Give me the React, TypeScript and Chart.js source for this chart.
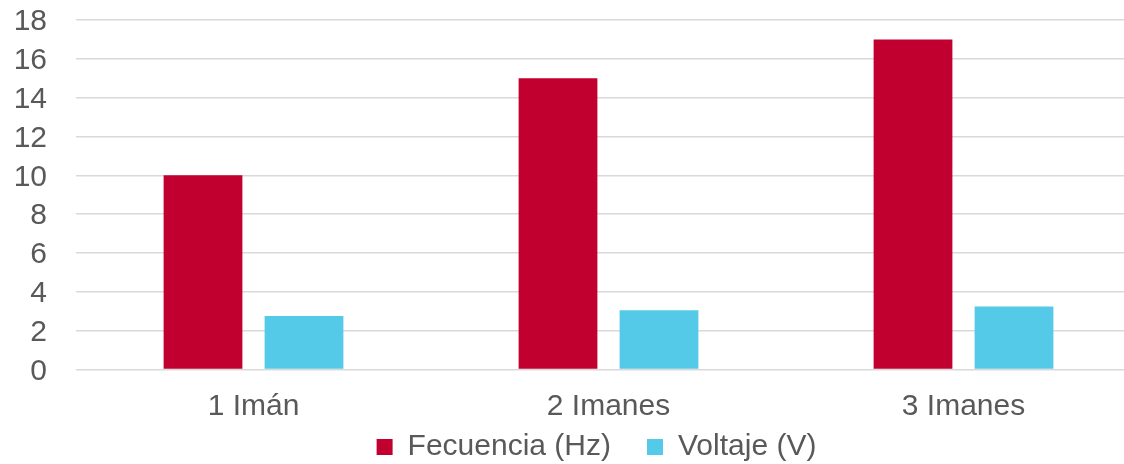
import React, { useEffect, useRef } from "react";
import { Chart, registerables } from "chart.js";

Chart.register(...registerables);

const categories = ["1 Imán", "2 Imanes", "3 Imanes"];
const frecuencia = [10, 15, 17];
const voltaje = [2.75, 3.05, 3.25];
const seriesLabels = ["Fecuencia (Hz)", "Voltaje (V)"];
const yMin = 0;
const yMax = 18;
const yStep = 2;

const RED = "#C1002F";
const CYAN = "#55CAE8";
const TEXT = "#595959";
const GRID = "#D9D9D9";
const FONT = { family: "'Liberation Sans', Arial, sans-serif", size: 30 };

const CANVAS_W = 1200;
const CANVAS_H = 472;

export default function App() {
  const ref = useRef<HTMLCanvasElement>(null);
  useEffect(() => {
    const chart = new Chart(ref.current as HTMLCanvasElement, {
      type: "bar",
      data: {
        labels: categories,
        datasets: [
          {
            label: seriesLabels[0],
            data: frecuencia,
            backgroundColor: RED,
            categoryPercentage: 0.569,
            barPercentage: 0.78,
            yAxisID: "y",
          },
          {
            label: seriesLabels[1],
            data: voltaje,
            backgroundColor: CYAN,
            categoryPercentage: 0.569,
            barPercentage: 0.78,
            yAxisID: "y",
          },
        ],
      },
      options: {
        animation: false,
        responsive: false,
        layout: { padding: { left: 0, right: 7, top: 20, bottom: 0 } },
        scales: {
          x: {
            grid: { display: false, drawTicks: false },
            border: { display: false },
            ticks: { font: FONT, color: TEXT, padding: -55.5, mirror: true, autoSkip: false, maxRotation: 0 },
            afterFit: (s: any) => {
              s.height = CANVAS_H - 76 - 369.5;
            },
          },
          y: {
            position: "left",
            min: yMin,
            max: yMax,
            ticks: { stepSize: yStep, font: FONT, color: TEXT, padding: 29, autoSkip: false, labelOffset: 2 },
            grid: { color: GRID, lineWidth: 1.5, drawTicks: false },
            border: { display: false },
            afterFit: (s: any) => {
              s.width = 76;
              s.paddingTop = 0;
              s.paddingBottom = 0;
            },
          },
          spacer: {
            type: "linear",
            position: "right",
            display: true,
            grid: { display: false, drawTicks: false },
            border: { display: false },
            ticks: { display: false },
            afterFit: (s: any) => {
              s.width = 52;
              s.paddingTop = 0;
              s.paddingBottom = 0;
            },
          },
        },
        plugins: {
          legend: {
            position: "bottom",
            labels: {
              boxWidth: 16,
              boxHeight: 16,
              padding: 36,
              font: FONT,
              color: TEXT,
            },
          },
          tooltip: { enabled: false },
        },
      },
    });
    return () => chart.destroy();
  }, []);

  return (
    <div
      style={{
        position: "absolute",
        left: 0,
        top: 0,
        width: 1124,
        height: 464,
        overflow: "hidden",
        background: "#fff",
      }}
    >
      <canvas ref={ref} width={CANVAS_W} height={CANVAS_H} style={{ display: "block" }} />
    </div>
  );
}
